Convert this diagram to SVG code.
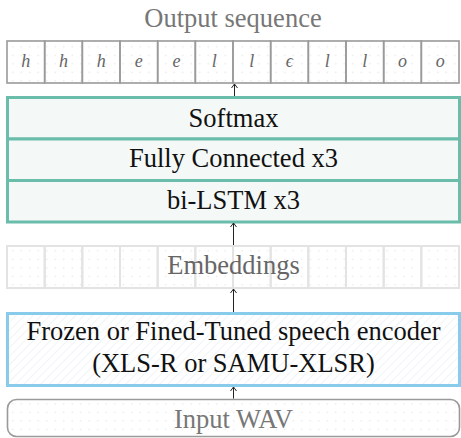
<svg xmlns="http://www.w3.org/2000/svg" width="461" height="438" viewBox="0 0 461 438">
<defs>
<pattern id="dots" width="8.5" height="8.5" patternUnits="userSpaceOnUse">
<circle cx="4.25" cy="4.25" r="0.8" fill="#e6e6e6"/>
</pattern>
<pattern id="hatch" width="6" height="6" patternUnits="userSpaceOnUse" patternTransform="rotate(45)">
<line x1="0" y1="0" x2="0" y2="6" stroke="#e6edf1" stroke-width="1.2"/>
</pattern>
<marker id="arr" markerWidth="10" markerHeight="10" refX="9" refY="5" orient="auto" markerUnits="userSpaceOnUse" viewBox="0 0 10 10">
<path d="M5,2 L9,5 L5,8" fill="none" stroke="#222" stroke-width="1"/>
</marker>
<style>
.t{font-family:"Liberation Serif","Times New Roman",serif;font-size:26.5px;text-anchor:middle}
.g{fill:#777}
.k{fill:#111}
.c{font-family:"Liberation Serif","DejaVu Serif",serif;font-style:italic;font-size:18px;fill:#666;text-anchor:middle}
.cell{fill:url(#dots);stroke:#9a9a9a;stroke-width:1.6}
.ecell{fill:url(#dots);stroke:#e3e3e3;stroke-width:2}
.teal{fill:#f4f8f7;stroke:#6bbdab;stroke-width:3}
.conn{stroke:#222;stroke-width:1;fill:none;marker-end:url(#arr)}
</style>
</defs>
<rect width="461" height="438" fill="#fff"/>

<g id="output">
<text class="t g" x="233" y="26.5">Output sequence</text>
<g>
<rect class="cell" x="7" y="41" width="37.67" height="42"/>
<rect class="cell" x="44.67" y="41" width="37.67" height="42"/>
<rect class="cell" x="82.33" y="41" width="37.67" height="42"/>
<rect class="cell" x="120" y="41" width="37.67" height="42"/>
<rect class="cell" x="157.67" y="41" width="37.67" height="42"/>
<rect class="cell" x="195.33" y="41" width="37.67" height="42"/>
<rect class="cell" x="233" y="41" width="37.67" height="42"/>
<rect class="cell" x="270.67" y="41" width="37.67" height="42"/>
<rect class="cell" x="308.33" y="41" width="37.67" height="42"/>
<rect class="cell" x="346" y="41" width="37.67" height="42"/>
<rect class="cell" x="383.67" y="41" width="37.67" height="42"/>
<rect class="cell" x="421.33" y="41" width="37.67" height="42"/>
</g>
<text class="c" x="25.8" y="67">h</text>
<text class="c" x="63.5" y="67">h</text>
<text class="c" x="101.2" y="67">h</text>
<text class="c" x="138.8" y="67">e</text>
<text class="c" x="176.5" y="67">e</text>
<text class="c" x="214.2" y="67">l</text>
<text class="c" x="251.8" y="67">l</text>
<text class="c" x="289.5" y="67">ϵ</text>
<text class="c" x="327.2" y="67">l</text>
<text class="c" x="364.8" y="67">l</text>
<text class="c" x="402.5" y="67">o</text>
<text class="c" x="440.2" y="67">o</text>
</g>

<g id="softmax">
<rect class="teal" x="7.5" y="97.5" width="452" height="41.5"/>
<text class="t k" x="233.5" y="127">Softmax</text>
</g>
<g id="fc">
<rect class="teal" x="7.5" y="139" width="452" height="41.5"/>
<text class="t k" x="233.5" y="167">Fully Connected x3</text>
</g>
<g id="lstm">
<rect class="teal" x="7.5" y="180.5" width="452" height="41.5"/>
<text class="t k" x="233.5" y="209">bi-LSTM x3</text>
</g>

<g id="embeddings">
<rect class="ecell" x="7" y="246" width="37.67" height="42"/>
<rect class="ecell" x="44.67" y="246" width="37.67" height="42"/>
<rect class="ecell" x="82.33" y="246" width="37.67" height="42"/>
<rect class="ecell" x="120" y="246" width="37.67" height="42"/>
<rect class="ecell" x="157.67" y="246" width="37.67" height="42"/>
<rect class="ecell" x="195.33" y="246" width="37.67" height="42"/>
<rect class="ecell" x="233" y="246" width="37.67" height="42"/>
<rect class="ecell" x="270.67" y="246" width="37.67" height="42"/>
<rect class="ecell" x="308.33" y="246" width="37.67" height="42"/>
<rect class="ecell" x="346" y="246" width="37.67" height="42"/>
<rect class="ecell" x="383.67" y="246" width="37.67" height="42"/>
<rect class="ecell" x="421.33" y="246" width="37.67" height="42"/>
<text class="t" x="233.5" y="273.5" fill="#666">Embeddings</text>
</g>

<g id="encoder">
<rect x="7.5" y="313.5" width="452" height="72" fill="#fff" stroke="none"/>
<rect x="7.5" y="313.5" width="452" height="72" fill="url(#hatch)" stroke="#88cbeb" stroke-width="3"/>
<text class="t k" x="233.5" y="340">Frozen or Fined-Tuned speech encoder</text>
<text class="t k" x="233.5" y="372">(XLS-R or SAMU-XLSR)</text>
</g>

<g id="input">
<rect x="7.5" y="399.5" width="452" height="37" rx="9" ry="9" fill="url(#dots)" stroke="#9a9a9a" stroke-width="1.6"/>
<text class="t" x="233.5" y="428" fill="#777">Input WAV</text>
</g>

<g id="connectors">
<line class="conn" x1="234.5" y1="96" x2="234.5" y2="84"/>
<line class="conn" x1="233.5" y1="245" x2="233.5" y2="223"/>
<line class="conn" x1="233.5" y1="312" x2="233.5" y2="289"/>
<line class="conn" x1="233.5" y1="398.5" x2="233.5" y2="387"/>
</g>
</svg>
